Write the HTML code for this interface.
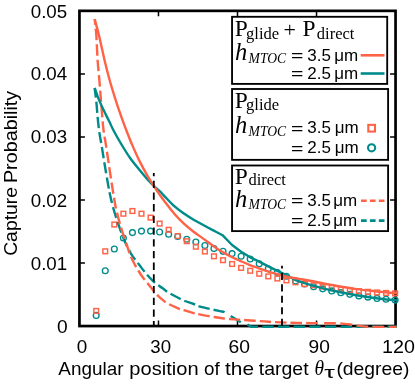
<!DOCTYPE html>
<html><head><meta charset="utf-8"><title>Capture Probability</title>
<style>html,body{margin:0;padding:0;background:#fff;}svg{display:block;}text{font-family:"Liberation Sans",sans-serif;fill:#000;}.se{font-family:"Liberation Serif",serif;}</style>
</head><body>
<svg width="415" height="384" viewBox="0 0 415 384" style="will-change:transform">
<rect x="0" y="0" width="415" height="384" fill="#fff"/>
<g stroke="#000" stroke-width="1.5" fill="none">
<path d="M158.48,326.05 v-5.5 M158.48,10.85 v5.5"/>
<path d="M237.50,326.05 v-5.5 M237.50,10.85 v5.5"/>
<path d="M316.53,326.05 v-5.5 M316.53,10.85 v5.5"/>
<path d="M79.45,263.01 h5.5 M395.55,263.01 h-5.5"/>
<path d="M79.45,199.97 h5.5 M395.55,199.97 h-5.5"/>
<path d="M79.45,136.93 h5.5 M395.55,136.93 h-5.5"/>
<path d="M79.45,73.89 h5.5 M395.55,73.89 h-5.5"/>
</g>
<rect x="79.45" y="10.85" width="316.10" height="315.20" fill="none" stroke="#000" stroke-width="2.7"/>
<g fill="none" stroke-width="1.35" stroke="#008b8b">
<circle cx="96.20" cy="315.40" r="2.9"/>
<circle cx="105.26" cy="270.80" r="2.9"/>
<circle cx="114.32" cy="249.00" r="2.9"/>
<circle cx="123.37" cy="238.00" r="2.9"/>
<circle cx="132.43" cy="232.60" r="2.9"/>
<circle cx="141.49" cy="231.10" r="2.9"/>
<circle cx="150.55" cy="231.10" r="2.9"/>
<circle cx="159.61" cy="232.00" r="2.9"/>
<circle cx="168.66" cy="234.20" r="2.9"/>
<circle cx="177.72" cy="236.50" r="2.9"/>
<circle cx="186.78" cy="239.20" r="2.9"/>
<circle cx="195.84" cy="242.00" r="2.9"/>
<circle cx="204.90" cy="245.50" r="2.9"/>
<circle cx="213.95" cy="248.60" r="2.9"/>
<circle cx="223.01" cy="251.30" r="2.9"/>
<circle cx="232.07" cy="253.60" r="2.9"/>
<circle cx="241.13" cy="256.30" r="2.9"/>
<circle cx="250.19" cy="259.00" r="2.9"/>
<circle cx="259.24" cy="263.80" r="2.9"/>
<circle cx="268.30" cy="268.70" r="2.9"/>
<circle cx="277.36" cy="272.60" r="2.9"/>
<circle cx="286.42" cy="276.30" r="2.9"/>
<circle cx="295.48" cy="280.90" r="2.9"/>
<circle cx="304.53" cy="284.00" r="2.9"/>
<circle cx="313.59" cy="286.70" r="2.9"/>
<circle cx="322.65" cy="288.86" r="2.9"/>
<circle cx="331.71" cy="290.94" r="2.9"/>
<circle cx="340.77" cy="292.65" r="2.9"/>
<circle cx="349.82" cy="294.36" r="2.9"/>
<circle cx="358.88" cy="295.88" r="2.9"/>
<circle cx="367.94" cy="297.14" r="2.9"/>
<circle cx="377.00" cy="298.40" r="2.9"/>
<circle cx="386.06" cy="299.29" r="2.9"/>
<circle cx="395.11" cy="300.09" r="2.9"/>
</g>
<g fill="none" stroke-width="1.45" stroke="#ff6347">
<rect x="93.85" y="308.55" width="4.7" height="4.7"/>
<rect x="102.91" y="248.95" width="4.7" height="4.7"/>
<rect x="111.97" y="222.15" width="4.7" height="4.7"/>
<rect x="121.02" y="211.35" width="4.7" height="4.7"/>
<rect x="130.08" y="208.65" width="4.7" height="4.7"/>
<rect x="139.14" y="211.35" width="4.7" height="4.7"/>
<rect x="148.20" y="215.25" width="4.7" height="4.7"/>
<rect x="157.26" y="221.25" width="4.7" height="4.7"/>
<rect x="166.31" y="227.45" width="4.7" height="4.7"/>
<rect x="175.37" y="233.65" width="4.7" height="4.7"/>
<rect x="184.43" y="238.85" width="4.7" height="4.7"/>
<rect x="193.49" y="244.35" width="4.7" height="4.7"/>
<rect x="202.55" y="249.15" width="4.7" height="4.7"/>
<rect x="211.60" y="253.95" width="4.7" height="4.7"/>
<rect x="220.66" y="257.85" width="4.7" height="4.7"/>
<rect x="229.72" y="261.65" width="4.7" height="4.7"/>
<rect x="238.78" y="265.55" width="4.7" height="4.7"/>
<rect x="247.84" y="268.45" width="4.7" height="4.7"/>
<rect x="256.89" y="271.35" width="4.7" height="4.7"/>
<rect x="265.95" y="274.05" width="4.7" height="4.7"/>
<rect x="275.01" y="276.15" width="4.7" height="4.7"/>
<rect x="284.07" y="278.05" width="4.7" height="4.7"/>
<rect x="293.13" y="279.95" width="4.7" height="4.7"/>
<rect x="302.18" y="281.75" width="4.7" height="4.7"/>
<rect x="311.24" y="282.85" width="4.7" height="4.7"/>
<rect x="320.30" y="284.19" width="4.7" height="4.7"/>
<rect x="329.36" y="285.50" width="4.7" height="4.7"/>
<rect x="338.42" y="286.68" width="4.7" height="4.7"/>
<rect x="347.47" y="287.86" width="4.7" height="4.7"/>
<rect x="356.53" y="288.81" width="4.7" height="4.7"/>
<rect x="365.59" y="289.47" width="4.7" height="4.7"/>
<rect x="374.65" y="290.12" width="4.7" height="4.7"/>
<rect x="383.71" y="290.62" width="4.7" height="4.7"/>
<rect x="392.76" y="291.04" width="4.7" height="4.7"/>
</g>
<g fill="none" stroke-width="2.4" stroke-linejoin="round">
<path d="M94.65,88.00 C94.94,90.40 95.89,97.43 96.40,102.40 C96.91,107.37 97.22,112.87 97.70,117.80 C98.18,122.73 98.65,127.40 99.30,132.00 C99.95,136.60 100.70,139.95 101.60,145.40 C102.50,150.85 103.63,158.27 104.70,164.70 C105.77,171.13 107.07,178.78 108.00,184.00 C108.93,189.22 109.35,191.75 110.30,196.00 C111.25,200.25 112.32,204.68 113.70,209.50 C115.08,214.32 116.83,219.77 118.60,224.90 C120.37,230.03 122.22,235.48 124.30,240.30 C126.38,245.12 128.52,249.58 131.10,253.80 C133.68,258.02 137.07,262.02 139.80,265.60 C142.53,269.18 144.93,272.40 147.50,275.30 C150.07,278.20 152.67,280.83 155.20,283.00 C157.73,285.17 160.48,286.70 162.70,288.30 C164.92,289.90 165.93,291.03 168.50,292.60 C171.07,294.17 175.53,296.37 178.10,297.70 C180.67,299.03 181.32,299.55 183.90,300.60 C186.48,301.65 191.03,303.05 193.60,304.00 C196.17,304.95 196.42,305.43 199.30,306.30 C202.18,307.17 207.45,308.40 210.90,309.20 C214.35,310.00 217.82,310.63 220.00,311.10 C222.18,311.57 223.03,311.52 224.00,312.00 C224.97,312.48 225.50,313.67 225.80,314.00" stroke="#008b8b" stroke-dasharray="11.25 4.03" stroke-dashoffset="1.5"/>
<path d="M230.7,316 L240.8,322.2" stroke="#008b8b"/>
<path d="M247.5,324.4 L251,326.7 L254,326.8 H397" stroke="#008b8b" stroke-dasharray="11.2 4.43"/>
<path d="M94.65,19.10 C94.93,21.75 95.81,28.18 96.30,35.00 C96.79,41.82 97.10,52.62 97.60,60.00 C98.10,67.38 98.77,72.87 99.30,79.30 C99.83,85.73 100.32,92.50 100.80,98.60 C101.28,104.70 101.75,110.67 102.20,115.90 C102.65,121.13 102.87,125.08 103.50,130.00 C104.13,134.92 105.10,139.62 106.00,145.40 C106.90,151.18 107.93,158.27 108.90,164.70 C109.87,171.13 110.90,178.22 111.80,184.00 C112.70,189.78 113.50,194.83 114.30,199.40 C115.10,203.97 115.42,206.50 116.60,211.40 C117.78,216.30 119.63,223.02 121.40,228.80 C123.17,234.58 125.67,241.57 127.20,246.10 C128.73,250.63 129.15,252.58 130.60,256.00 C132.05,259.42 133.88,263.07 135.90,266.60 C137.92,270.13 140.28,273.83 142.70,277.20 C145.12,280.57 148.35,284.23 150.40,286.80 C152.45,289.37 153.27,290.68 155.00,292.60 C156.73,294.52 158.72,296.50 160.80,298.30 C162.88,300.10 164.62,301.73 167.50,303.40 C170.38,305.07 175.37,307.17 178.10,308.30 C180.83,309.43 181.32,309.40 183.90,310.20 C186.48,311.00 191.03,312.40 193.60,313.10 C196.17,313.80 196.42,313.85 199.30,314.40 C202.18,314.95 207.03,315.75 210.90,316.40 C214.77,317.05 218.48,317.80 222.50,318.30 C226.52,318.80 231.82,319.15 235.00,319.40 C238.18,319.65 238.27,319.57 241.60,319.80 C244.93,320.03 250.50,320.47 255.00,320.80 C259.50,321.13 263.13,321.48 268.60,321.80 C274.07,322.12 280.90,322.48 287.80,322.70 C294.70,322.92 304.63,323.03 310.00,323.10 C315.37,323.18 318.33,323.14 320.00,323.15" stroke="#ff6347" stroke-dasharray="11.37 4.07" stroke-dashoffset="5.55"/>
<path d="M324.10,323.20 C325.42,323.21 329.30,323.23 332.00,323.25 C334.70,323.27 337.07,323.12 340.30,323.35 C343.53,323.58 348.12,324.18 351.40,324.60 C354.68,325.03 357.30,325.53 360.00,325.90 C362.70,326.27 365.10,326.64 367.60,326.80 C370.10,326.96 370.17,326.84 375.00,326.85 C379.83,326.86 393.00,326.85 396.60,326.85" stroke="#ff6347" stroke-dasharray="11.9 4.3"/>
<path d="M94.65,88.00 C95.29,89.77 97.01,94.92 98.50,98.60 C99.99,102.28 101.78,106.25 103.60,110.10 C105.42,113.95 107.78,118.38 109.40,121.70 C111.02,125.02 111.38,126.37 113.30,130.00 C115.22,133.63 118.10,138.83 120.90,143.50 C123.70,148.17 126.95,153.55 130.10,158.00 C133.25,162.45 136.58,166.28 139.80,170.20 C143.02,174.12 146.93,178.77 149.40,181.50 C151.87,184.23 152.83,184.95 154.60,186.60 C156.37,188.25 158.33,189.78 160.00,191.40 C161.67,193.02 162.22,193.83 164.60,196.30 C166.98,198.77 171.08,203.32 174.30,206.20 C177.52,209.08 180.68,211.35 183.90,213.60 C187.12,215.85 190.38,217.80 193.60,219.70 C196.82,221.60 200.00,223.27 203.20,225.00 C206.40,226.73 209.58,228.40 212.80,230.10 C216.02,231.80 220.88,234.35 222.50,235.20 L232.10,245.00 L241.10,251.80 L250.20,257.30 L259.20,261.60 L268.30,266.40 L277.40,270.90 L286.40,275.10 L295.50,280.00 L304.50,283.20 L313.60,285.90 L313.60,285.90 C316.33,286.58 323.10,288.48 330.00,290.00 C336.90,291.52 346.67,293.54 355.00,295.00 C363.33,296.46 372.92,297.87 380.00,298.75 C387.08,299.63 394.58,300.04 397.50,300.30" stroke="#008b8b"/>
<path d="M94.65,19.10 C95.36,21.77 97.26,28.28 98.90,35.10 C100.54,41.92 102.75,52.63 104.50,60.00 C106.25,67.37 107.62,72.87 109.40,79.30 C111.18,85.73 113.27,92.50 115.20,98.60 C117.13,104.70 119.17,110.67 121.00,115.90 C122.83,121.13 124.30,125.08 126.20,130.00 C128.10,134.92 130.13,140.13 132.40,145.40 C134.67,150.67 137.28,156.53 139.80,161.60 C142.32,166.67 145.10,171.65 147.50,175.80 C149.90,179.95 152.12,183.28 154.20,186.50 C156.28,189.72 158.27,192.62 160.00,195.10 C161.73,197.58 162.22,198.30 164.60,201.40 C166.98,204.50 171.08,210.00 174.30,213.70 C177.52,217.40 180.68,220.60 183.90,223.60 C187.12,226.60 190.38,229.20 193.60,231.70 C196.82,234.20 199.35,235.82 203.20,238.60 C207.05,241.38 212.52,245.63 216.70,248.40 C220.88,251.17 225.25,253.50 228.30,255.20 C231.35,256.90 233.12,257.70 235.00,258.60 C236.88,259.50 237.22,259.57 239.60,260.60 C241.98,261.63 246.08,263.52 249.30,264.80 C252.52,266.08 255.68,267.15 258.90,268.30 C262.12,269.45 265.38,270.68 268.60,271.70 C271.82,272.72 275.00,273.53 278.20,274.40 C281.40,275.27 284.58,276.20 287.80,276.90 C291.02,277.60 293.80,277.95 297.50,278.60 C301.20,279.25 304.58,279.80 310.00,280.80 C315.42,281.80 322.50,283.25 330.00,284.60 C337.50,285.95 346.67,287.71 355.00,288.90 C363.33,290.09 372.92,291.02 380.00,291.75 C387.08,292.48 394.58,293.04 397.50,293.30" stroke="#ff6347"/>
</g>
<path d="M153.8,173.1 V326" stroke="#000" stroke-width="1.8" stroke-dasharray="7.3 4.4" stroke-dashoffset="4.1" fill="none"/>
<path d="M282,265.8 V326" stroke="#000" stroke-width="1.8" stroke-dasharray="7.1 4.35" stroke-dashoffset="4.4" fill="none"/>
<g font-size="19.2">
<text x="67.6" y="333.25" text-anchor="end">0</text>
<text x="30.73" y="269.71" textLength="36.49" lengthAdjust="spacingAndGlyphs">0.01</text>
<text x="30.73" y="206.57" textLength="36.49" lengthAdjust="spacingAndGlyphs">0.02</text>
<text x="30.73" y="143.23" textLength="36.49" lengthAdjust="spacingAndGlyphs">0.03</text>
<text x="30.73" y="79.89" textLength="36.49" lengthAdjust="spacingAndGlyphs">0.04</text>
<text x="30.73" y="17.75" textLength="36.49" lengthAdjust="spacingAndGlyphs">0.05</text>
</g>
<g font-size="19.2">
<text x="76.63" y="352.8" textLength="10.50" lengthAdjust="spacingAndGlyphs">0</text>
<text x="150.37" y="352.8" textLength="20.71" lengthAdjust="spacingAndGlyphs">30</text>
<text x="228.54" y="352.8" textLength="21.47" lengthAdjust="spacingAndGlyphs">60</text>
<text x="308.50" y="352.8" textLength="21.31" lengthAdjust="spacingAndGlyphs">90</text>
<text x="382.07" y="352.8" textLength="32.86" lengthAdjust="spacingAndGlyphs">120</text>
</g>
<text x="58.34" y="374.80" font-size="18.6" textLength="65.11" lengthAdjust="spacingAndGlyphs">Angular</text>
<text x="129.35" y="374.80" font-size="18.6" textLength="69.21" lengthAdjust="spacingAndGlyphs">position</text>
<text x="204.11" y="374.80" font-size="18.6" textLength="15.69" lengthAdjust="spacingAndGlyphs">of</text>
<text x="225.05" y="374.80" font-size="18.6" textLength="28.94" lengthAdjust="spacingAndGlyphs">the</text>
<text x="258.80" y="374.80" font-size="18.6" textLength="49.79" lengthAdjust="spacingAndGlyphs">target</text>
<text class="se" x="314.42" y="374.60" font-size="21.5" font-style="italic" textLength="9.55" lengthAdjust="spacingAndGlyphs">θ</text>
<text x="324.38" y="378.30" font-size="17" textLength="10.57" lengthAdjust="spacingAndGlyphs">τ</text>
<text x="336.45" y="374.80" font-size="18.6" textLength="73.03" lengthAdjust="spacingAndGlyphs">(degree)</text>
<g transform="translate(17.3,255.1) rotate(-90)">
<text x="-0.75" y="0.00" font-size="18.7" textLength="68.82" lengthAdjust="spacingAndGlyphs">Capture</text>
<text x="72.04" y="0.00" font-size="18.7" textLength="92.30" lengthAdjust="spacingAndGlyphs">Probability</text>
</g>
<rect x="232.05" y="16.80" width="155.15" height="67.10" fill="#fff" stroke="#000" stroke-width="1.85"/>
<text class="se" x="234.7" y="35.50" font-size="23.4">P</text>
<text class="se" x="246.1" y="38.60" font-size="16.5">glide</text>
<text class="se" x="283.6" y="37.30" font-size="22">+</text>
<text class="se" x="302.5" y="35.50" font-size="23.4">P</text>
<text class="se" x="316.8" y="38.60" font-size="16.5">direct</text>
<text class="se" x="234.9" y="60.20" font-size="24.5" font-style="italic">h</text>
<text class="se" x="248.6" y="62.70" font-size="13.6" font-style="italic">MTOC</text>
<text x="290.92" y="61.20" font-size="17" textLength="12.38" lengthAdjust="spacingAndGlyphs">=</text>
<text x="307.3" y="60.60" font-size="17">3.5</text>
<text x="334.20" y="60.60" font-size="17">μm</text>
<text x="290.92" y="79.40" font-size="17" textLength="12.38" lengthAdjust="spacingAndGlyphs">=</text>
<text x="307.3" y="78.80" font-size="17">2.5</text>
<text x="334.20" y="78.80" font-size="17">μm</text>
<path d="M360.7,55.30 H384.5" stroke="#ff6347" stroke-width="2.6"/>
<path d="M360.7,73.50 H384.5" stroke="#008b8b" stroke-width="2.6"/>
<rect x="232.05" y="89.00" width="156.05" height="70.85" fill="#fff" stroke="#000" stroke-width="1.85"/>
<text class="se" x="234.7" y="108.10" font-size="23.4">P</text>
<text class="se" x="246.10" y="110.30" font-size="16.5">glide</text>
<text class="se" x="234.9" y="132.80" font-size="24.5" font-style="italic">h</text>
<text class="se" x="248.6" y="135.70" font-size="13.6" font-style="italic">MTOC</text>
<text x="290.92" y="133.50" font-size="17" textLength="12.38" lengthAdjust="spacingAndGlyphs">=</text>
<text x="307.3" y="132.90" font-size="17">3.5</text>
<text x="334.80" y="132.90" font-size="17">μm</text>
<text x="290.92" y="153.60" font-size="17" textLength="12.38" lengthAdjust="spacingAndGlyphs">=</text>
<text x="307.3" y="153.00" font-size="17">2.5</text>
<text x="334.80" y="153.00" font-size="17">μm</text>
<rect x="368.3" y="124.85" width="6.7" height="6.7" fill="none" stroke="#ff6347" stroke-width="2.1"/>
<circle cx="371.6" cy="147.80" r="3.6" fill="none" stroke="#008b8b" stroke-width="2.1"/>
<rect x="232.05" y="165.50" width="156.05" height="65.60" fill="#fff" stroke="#000" stroke-width="1.85"/>
<text class="se" x="234.7" y="183.80" font-size="23.4">P</text>
<text class="se" x="248.40" y="184.80" font-size="16.5">direct</text>
<text class="se" x="234.9" y="206.80" font-size="24.5" font-style="italic">h</text>
<text class="se" x="248.6" y="208.60" font-size="13.6" font-style="italic">MTOC</text>
<text x="290.92" y="206.30" font-size="17" textLength="12.38" lengthAdjust="spacingAndGlyphs">=</text>
<text x="307.3" y="205.70" font-size="17">3.5</text>
<text x="333.30" y="205.70" font-size="17">μm</text>
<text x="290.92" y="226.20" font-size="17" textLength="12.38" lengthAdjust="spacingAndGlyphs">=</text>
<text x="307.3" y="225.60" font-size="17">2.5</text>
<text x="333.30" y="225.60" font-size="17">μm</text>
<path d="M361,200.70 H384.5" stroke="#ff6347" stroke-width="2.6" stroke-dasharray="5.7 3.2"/>
<path d="M361,220.60 H384.5" stroke="#008b8b" stroke-width="2.6" stroke-dasharray="5.7 3.2"/>
</svg>
</body></html>
